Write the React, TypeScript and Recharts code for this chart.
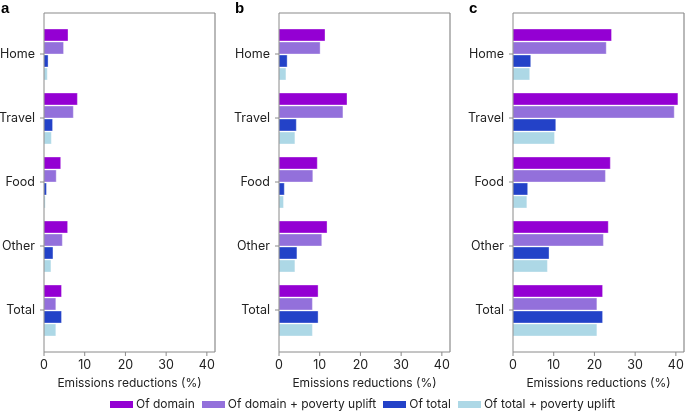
import { BarChart, Bar, XAxis, YAxis, CartesianGrid } from "recharts";

const categories = ["Home", "Travel", "Food", "Other", "Total"];
const xTicks = [0, 10, 20, 30, 40];

// panel a
const domainA = [5.9, 8.2, 4.1, 5.8, 4.3];
const domainPovA = [4.8, 7.2, 3.0, 4.5, 2.9];
const totalA = [1.0, 2.1, 0.6, 2.2, 4.3];
const totalPovA = [0.8, 1.8, 0.3, 1.7, 2.9];

// panel b
const domainB = [11.3, 16.7, 9.4, 11.8, 9.6];
const domainPovB = [10.1, 15.7, 8.3, 10.5, 8.2];
const totalB = [2.0, 4.25, 1.3, 4.4, 9.6];
const totalPovB = [1.7, 3.9, 1.1, 3.9, 8.2];

// panel c
const domainC = [24.2, 40.5, 23.9, 23.4, 22.0];
const domainPovC = [22.9, 39.6, 22.7, 22.2, 20.6];
const totalC = [4.35, 10.5, 3.6, 8.85, 22.0];
const totalPovC = [4.1, 10.2, 3.4, 8.45, 20.6];

const series = [
  { key: "domain", name: "Of domain", color: "#9400d3" },
  { key: "domainPov", name: "Of domain + poverty uplift", color: "#9370db" },
  { key: "total", name: "Of total", color: "#2342c8" },
  { key: "totalPov", name: "Of total + poverty uplift", color: "#add8e6" },
];

const build = (d: number[], dp: number[], t: number[], tp: number[]) =>
  categories.map((name, i) => ({ name, domain: d[i], domainPov: dp[i], total: t[i], totalPov: tp[i] }));

const panels = [
  { label: "a", left: 0, yw: 44, width: 220, right: 5, data: build(domainA, domainPovA, totalA, totalPovA) },
  { label: "b", left: 234, yw: 45, width: 221, right: 5, data: build(domainB, domainPovB, totalB, totalPovB) },
  { label: "c", left: 468, yw: 45, width: 217, right: 1, data: build(domainC, domainPovC, totalC, totalPovC) },
];

const FONT = "Inter, 'Noto Sans', sans-serif";
const GRAY = "#8a8a8a";

function Panel({ p }: { p: (typeof panels)[number] }) {
  return (
    <BarChart
      width={p.width}
      height={395}
      data={p.data}
      layout="vertical"
      barSize={12}
      barGap={1}
      margin={{ top: 13, right: p.right, left: 0, bottom: 3 }}
      style={{ position: "absolute", left: p.left, top: 0 }}
    >
      <CartesianGrid
        stroke={GRAY}
        strokeWidth={1.2}
        horizontalCoordinatesGenerator={({ offset }: any) => [offset.top]}
        verticalCoordinatesGenerator={({ offset }: any) => [offset.left + offset.width]}
      />
      <XAxis
        type="number"
        domain={[0, 42]}
        ticks={xTicks}
        height={40}
        tickSize={4}
        tickMargin={4}
        stroke={GRAY}
        tick={{ fill: "#222", fontSize: 12.5, fontFamily: FONT }}
        label={{
          value: "Emissions reductions (%)",
          position: "insideBottom",
          offset: 5,
          fill: "#222",
          fontSize: 12,
          fontFamily: FONT,
        }}
      />
      <YAxis
        type="category"
        dataKey="name"
        width={p.yw}
        padding={{ top: 9, bottom: 10 }}
        tickSize={4}
        tickMargin={5}
        stroke={GRAY}
        tick={{ fill: "#222", fontSize: 12.5, fontFamily: FONT }}
      />
      {series.map((s) => (
        <Bar
          key={s.key}
          dataKey={s.key}
          name={s.name}
          fill={s.color}
          stroke="#ffffff"
          strokeOpacity={0.35}
          isAnimationActive={false}
        />
      ))}
    </BarChart>
  );
}

export default function App() {
  return (
    <div style={{ position: "fixed", left: 0, top: 0, width: 685, height: 411, background: "#fff", fontFamily: FONT }}>
      {panels.map((p) => (
        <div key={p.label}>
          <div
            style={{
              position: "absolute",
              left: p.left + 1,
              top: 0,
              fontSize: 15,
              lineHeight: "15px",
              fontWeight: 900,
              color: "#000",
              fontFamily: "Arial, 'Liberation Sans', sans-serif",
            }}
          >
            {p.label}
          </div>
          <Panel p={p} />
        </div>
      ))}
      <div
        style={{
          position: "absolute",
          left: 110,
          top: 397,
          display: "flex",
          gap: 7,
          fontSize: 12,
          color: "#222",
          lineHeight: "14px",
        }}
      >
        {series.map((s) => (
          <div key={s.key} style={{ display: "flex", alignItems: "center", gap: 3 }}>
            <span style={{ display: "inline-block", width: 23, height: 7, background: s.color }} />
            <span>{s.name}</span>
          </div>
        ))}
      </div>
    </div>
  );
}
